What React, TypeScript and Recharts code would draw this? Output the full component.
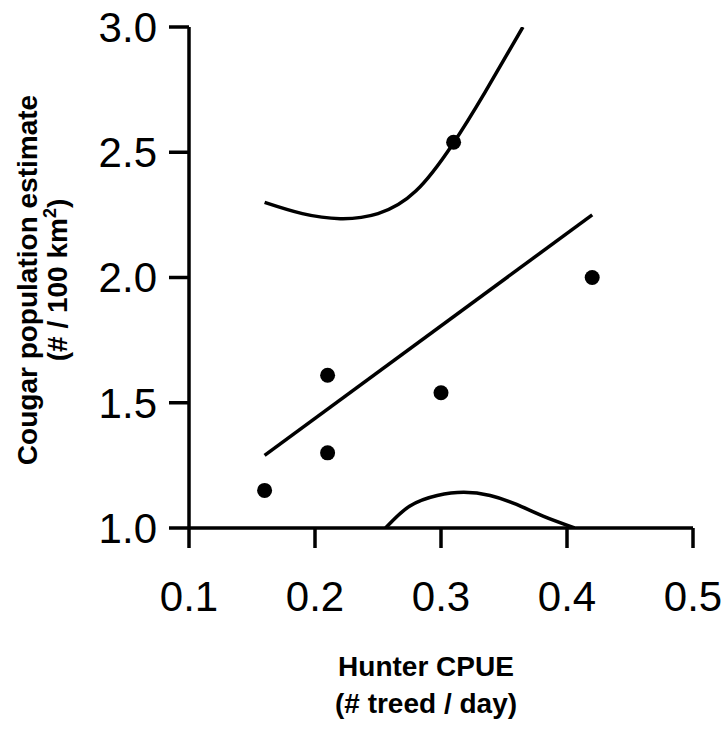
import {
  ComposedChart,
  Line,
  Scatter,
  XAxis,
  YAxis,
} from 'recharts';

// observed points (Hunter CPUE vs cougar density)
const cpue = [0.16, 0.21, 0.21, 0.3, 0.31, 0.42];
const density = [1.15, 1.61, 1.3, 1.54, 2.54, 2.0];

// fitted regression line
const fitX = [0.16, 0.42];
const fitY = [1.29, 2.25];

// upper confidence curve
const upperX = [0.16, 0.19, 0.22, 0.25, 0.28, 0.309, 0.335, 0.365];
const upperY = [2.3, 2.255, 2.235, 2.255, 2.345, 2.53, 2.74, 3.0];

// lower confidence curve
const lowerX = [0.256, 0.275, 0.297, 0.318, 0.339, 0.36, 0.381, 0.406];
const lowerY = [1.0, 1.087, 1.13, 1.143, 1.13, 1.094, 1.047, 1.0];

const xTicks = [0.1, 0.2, 0.3, 0.4, 0.5];
const yTicks = [1.0, 1.5, 2.0, 2.5, 3.0];

const zip = (xs: number[], ys: number[]) => xs.map((x, i) => ({ x, y: ys[i] }));

const points = zip(cpue, density);
const fitData = zip(fitX, fitY);
const upperData = zip(upperX, upperY);
const lowerData = zip(lowerX, lowerY);

const FONT = '"Liberation Sans", Arial, Helvetica, sans-serif';

const XTitle = () => (
  <text textAnchor="middle" fontFamily={FONT} fontWeight="bold" fontSize={28} fill="#000">
    <tspan x={426} y={676}>Hunter CPUE</tspan>
    <tspan x={426} y={713}>(# treed / day)</tspan>
  </text>
);

const YTitle = () => (
  <g>
    <text
      x={37}
      y={280}
      transform="rotate(-90, 37, 280)"
      textAnchor="middle"
      fontFamily={FONT}
      fontWeight="bold"
      fontSize={28}
      fill="#000"
    >
      Cougar population estimate
    </text>
    <text
      x={67}
      y={280}
      transform="rotate(-90, 67, 280)"
      textAnchor="middle"
      fontFamily={FONT}
      fontWeight="bold"
      fontSize={28}
      fill="#000"
    >
      (# / 100 km<tspan fontSize={18} dy={-11}>2</tspan><tspan dy={11}>)</tspan>
    </text>
  </g>
);

const Dot = (props: any) => <circle cx={props.cx} cy={props.cy} r={7.5} fill="#000" />;

const lineStyle = { stroke: '#000', strokeWidth: 3.5 };

export default function App() {
  return (
    <div style={{ position: 'absolute', left: 0, top: 0, background: '#fff' }}>
      <ComposedChart
        width={724}
        height={746}
        margin={{ top: 27, right: 31, left: 69, bottom: 118 }}
      >
        <XAxis
          type="number"
          dataKey="x"
          domain={[0.1, 0.5]}
          ticks={xTicks}
          allowDataOverflow
          height={100}
          tickFormatter={(v: number) => v.toFixed(1)}
          tickSize={20}
          tickMargin={33}
          axisLine={lineStyle}
          tickLine={lineStyle}
          tick={{ fill: '#000', fontSize: 42, fontFamily: FONT }}
          label={<XTitle />}
        />
        <YAxis
          type="number"
          dataKey="y"
          domain={[1, 3]}
          ticks={yTicks}
          allowDataOverflow
          width={120}
          tickFormatter={(v: number) => v.toFixed(1)}
          tickSize={20}
          tickMargin={12}
          axisLine={lineStyle}
          tickLine={lineStyle}
          tick={{ fill: '#000', fontSize: 42, fontFamily: FONT }}
          label={<YTitle />}
        />
        <Line
          data={upperData}
          dataKey="y"
          type="natural"
          stroke="#000"
          strokeWidth={3.5}
          dot={false}
          isAnimationActive={false}
        />
        <Line
          data={lowerData}
          dataKey="y"
          type="natural"
          stroke="#000"
          strokeWidth={3.5}
          dot={false}
          isAnimationActive={false}
        />
        <Line
          data={fitData}
          dataKey="y"
          type="linear"
          stroke="#000"
          strokeWidth={3.5}
          dot={false}
          isAnimationActive={false}
        />
        <Scatter data={points} dataKey="y" shape={Dot} isAnimationActive={false} />
      </ComposedChart>
    </div>
  );
}
